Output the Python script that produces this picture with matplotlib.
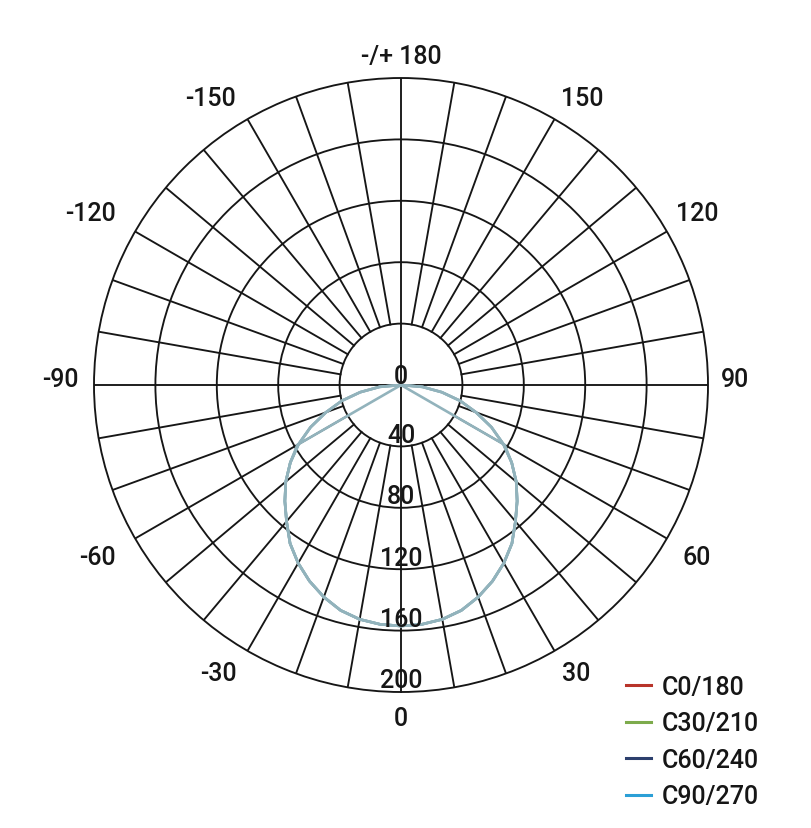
import matplotlib
matplotlib.use('Agg')
import matplotlib.pyplot as plt
import numpy as np
from matplotlib.lines import Line2D

plt.rcParams['font.family'] = ['Roboto', 'DejaVu Sans']

# ---- data ----
gamma_fine = [-90, -85, -80, -75, -70, -65, -60, -55, -50, -45, -40, -35, -30, -25, -20, -15, -10, -5,
              0, 5, 10, 15, 20, 25, 30, 35, 40, 45, 50, 55, 60, 65, 70, 75, 80, 85, 90]
intensity_fine = [0, 14, 27, 40, 52, 65, 77, 88, 98, 107, 116, 126, 134, 141, 147, 152, 155, 156.5,
                  157, 156.5, 155, 152, 147, 141, 134, 126, 116, 107, 98, 88, 77, 65, 52, 40, 27, 14, 0]
gamma_coarse = [-90, -60, -55, -50, -45, -40, -35, -30, -25, -20, -15, -10, -5,
                0, 5, 10, 15, 20, 25, 30, 35, 40, 45, 50, 55, 60, 90]
intensity_coarse = [0, 78, 88, 98, 107, 116, 126, 134, 141, 147, 152, 155, 156.5,
                    157, 156.5, 155, 152, 147, 141, 134, 126, 116, 107, 98, 88, 78, 0]

series_names = ['C0/180', 'C30/210', 'C60/240', 'C90/270']
legend_colors = ['#b8342a', '#7dab4c', '#2c3f6d', '#2b9fd6']
curve_color = '#92b3bc'

angle_labels = ['-/+ 180', '150', '-150', '120', '-120', '90', '-90', '60', '-60', '30', '-30', '0']
radial_ticks = [40, 80, 120, 160, 200]
radial_labels = ['40', '80', '120', '160', '200']

# layout: pixel offsets of the angle labels from the plot centre
label_offsets = [(0, 329), (181, 287), (-191, 287), (296, 172), (-311, 172), (334, 6), (-341, 6),
                 (296, -172), (-304, -172), (175, -288), (-183, -288), (0, -333)]

# ---- figure ----
W, H = 812, 829
fig = plt.figure(figsize=(W / 100, H / 100), dpi=100)
cx, cy, R = 401, 386, 307
ax = fig.add_axes([(cx - R) / W, (H - cy - R) / H, 2 * R / W, 2 * R / H], projection='polar')
ax.set_theta_zero_location('S')
ax.set_theta_direction(1)
ax.set_ylim(0, 200)
ax.set_xticks([])
ax.set_yticks(radial_ticks[:-1])
ax.set_yticklabels([])
gc = '#161616'
glw = 1.35
ax.yaxis.grid(True, color=gc, lw=glw)
ax.spines['polar'].set_color(gc)
ax.spines['polar'].set_linewidth(glw)
ax.set_facecolor('white')

# spokes every 10 degrees
for a in range(0, 360, 10):
    r0 = 0 if a % 90 == 0 else radial_ticks[0]
    ax.plot([np.deg2rad(a)] * 2, [r0, radial_ticks[-1]], color=gc, lw=glw, zorder=1)

# curves
th_f = np.deg2rad(gamma_fine)
th_c = np.deg2rad(gamma_coarse)
for name in series_names:
    if name == 'C90/270':
        ax.plot(th_c, intensity_coarse, color=curve_color, lw=1.9, zorder=3)
    else:
        ax.plot(th_f, intensity_fine, color=curve_color, lw=1.9, zorder=3)

fs = 18
fw = 'medium'
txtc = '#161616'
for lab, (dx, dy) in zip(angle_labels, label_offsets):
    ax.annotate(lab, xy=(0, 0), xycoords='data', xytext=(dx, dy), textcoords='offset pixels',
                ha='center', va='center', fontsize=fs, fontweight=fw, color=txtc, annotation_clip=False)

for v, lab in zip(radial_ticks, radial_labels):
    ax.text(0, v - 7.6, lab, ha='center', va='center', fontsize=fs, fontweight=fw, color=txtc, zorder=4)
ax.text(np.pi, 6.0, '0', ha='center', va='center', fontsize=fs, fontweight=fw, color=txtc, zorder=4)

handles = [Line2D([0], [0], color=c, lw=2.2) for c in legend_colors]
leg = fig.legend(handles, series_names, loc='upper left', bbox_to_anchor=(626 / W, 1 - 676 / H),
                 frameon=False, fontsize=fs, handlelength=1.0, handletextpad=0.45,
                 labelspacing=0.5, borderpad=0, borderaxespad=0)
for t in leg.get_texts():
    t.set_fontweight(fw)
    t.set_color(txtc)

fig.savefig('out.png', dpi=100, facecolor='white')
